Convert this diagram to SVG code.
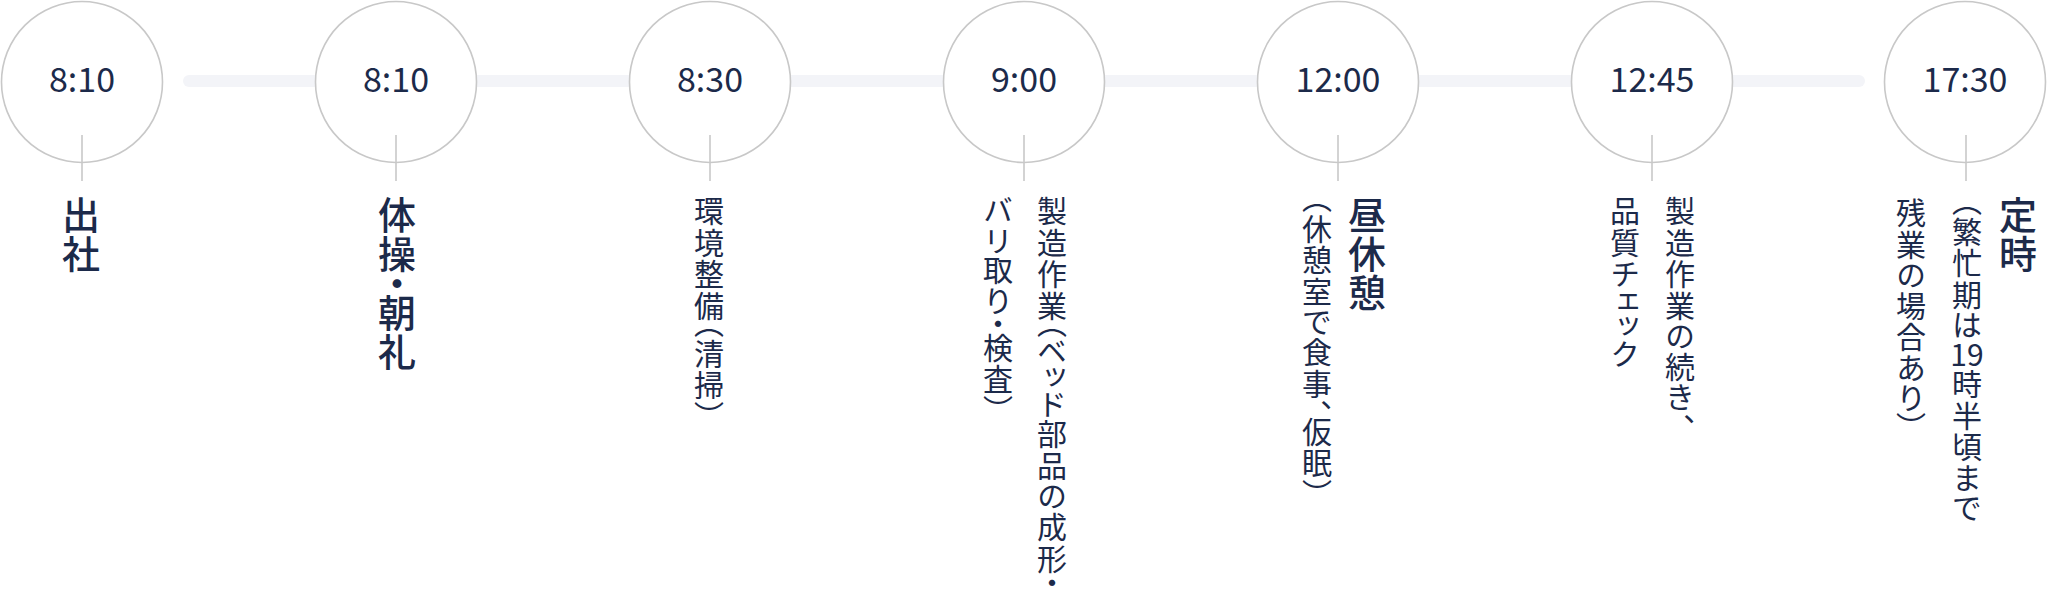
<svg xmlns="http://www.w3.org/2000/svg" width="2048" height="590" viewBox="0 0 2048 590">
<style>
.c{fill:#ffffff;stroke:#c8c8c8;stroke-width:1.6}
.t{stroke:#c8c8c8;stroke-width:1.6}
.tm{font-family:"Noto Sans CJK JP","Noto Sans",sans-serif;font-size:34px;fill:#1c2a4a;text-anchor:middle}
.v{writing-mode:vertical-rl;font-family:"Noto Sans CJK JP",sans-serif;fill:#1c2a4a;font-feature-settings:"vpal" 1}
.ti{font-size:38px;font-weight:500;letter-spacing:1px}
.su{font-size:30px;font-weight:400;letter-spacing:1.5px}
.h{font-family:"Noto Sans CJK JP",sans-serif;fill:#1c2a4a;font-size:30px;text-anchor:middle}
</style>
<rect width="2048" height="590" fill="#ffffff"/>
<g id="connectors">
<rect x="183" y="75" width="1682" height="12" rx="6" fill="#f3f4f8"/>
</g>
<g id="n1">
<circle class="c" cx="82" cy="82" r="80.5"/>
<line class="t" x1="82" y1="135" x2="82" y2="181"/>
<text class="tm" x="82" y="92">8:10</text>
<text class="v ti" x="81" y="196">出社</text>
</g>
<g id="n2">
<circle class="c" cx="396" cy="82" r="80.5"/>
<line class="t" x1="396" y1="135" x2="396" y2="181"/>
<text class="tm" x="396" y="92">8:10</text>
<text class="v ti" x="397" y="196">体操・朝礼</text>
</g>
<g id="n3">
<circle class="c" cx="710" cy="82" r="80.5"/>
<line class="t" x1="710" y1="135" x2="710" y2="181"/>
<text class="tm" x="710" y="92">8:30</text>
<text class="v su" x="709" y="196">環境整備（清掃）</text>
</g>
<g id="n4">
<circle class="c" cx="1024" cy="82" r="80.5"/>
<line class="t" x1="1024" y1="135" x2="1024" y2="181"/>
<text class="tm" x="1024" y="92">9:00</text>
<text class="v su" x="1052" y="196">製造作業（ベッド部品の成形・</text>
<text class="v su" x="998" y="196">バリ取り・検査）</text>
</g>
<g id="n5">
<circle class="c" cx="1338" cy="82" r="80.5"/>
<line class="t" x1="1338" y1="135" x2="1338" y2="181"/>
<text class="tm" x="1338" y="92">12:00</text>
<text class="v ti" x="1367" y="196">昼休憩</text>
<text class="v su" x="1317" y="197">（休憩室で食事、仮眠）</text>
</g>
<g id="n6">
<circle class="c" cx="1652" cy="82" r="80.5"/>
<line class="t" x1="1652" y1="135" x2="1652" y2="181"/>
<text class="tm" x="1652" y="92">12:45</text>
<text class="v su" x="1680" y="196">製造作業の続き、</text>
<text class="v su" x="1625" y="196">品質チェック</text>
</g>
<g id="n7">
<circle class="c" cx="1965" cy="82" r="80.5"/>
<line class="t" x1="1966" y1="135" x2="1966" y2="181"/>
<text class="tm" x="1965" y="92">17:30</text>
<text class="v ti" x="2018" y="196">定時</text>
<text class="v su" x="1967" y="200">（繁忙期は</text>
<text class="h" x="1967" y="366">19</text>
<text class="v su" x="1967" y="369">時半頃まで</text>
<text class="v su" x="1911" y="198">残業の場合あり）</text>
</g>
</svg>
